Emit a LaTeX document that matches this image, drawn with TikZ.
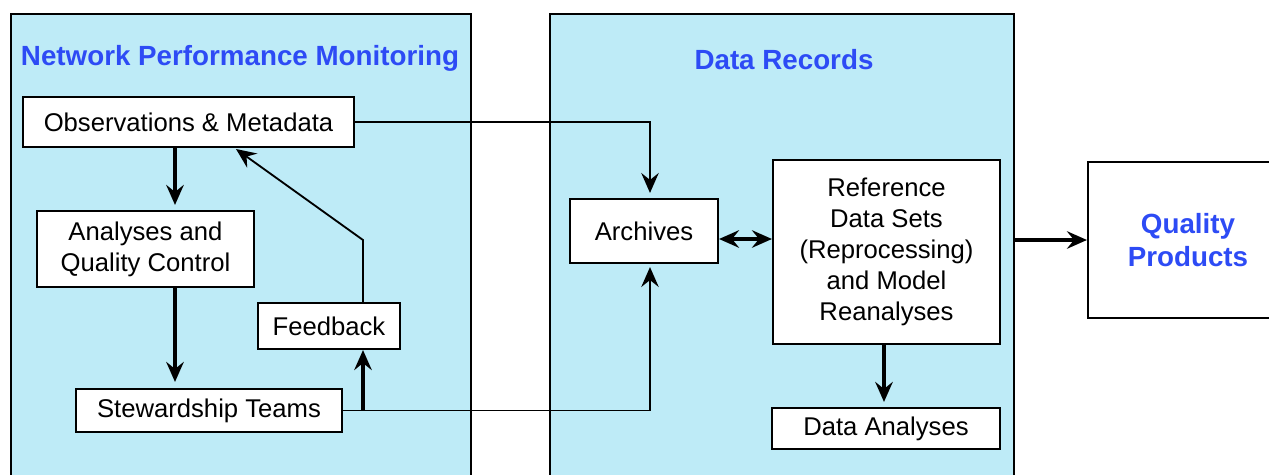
\documentclass[tikz,border=0pt]{standalone}
\usepackage{fontspec}
\setmainfont{Liberation Sans}
\usetikzlibrary{arrows.meta}

\definecolor{panelcyan}{RGB}{190,235,247}
\definecolor{headblue}{RGB}{45,75,245}

\begin{document}
\begin{tikzpicture}[x=0.02cm, y=-0.02cm,
    panel/.style={draw, line width=1.2pt, fill=panelcyan, anchor=north west, inner sep=0pt},
    box/.style={draw, line width=1.2pt, fill=white, inner sep=0pt, align=center,
                font=\fontsize{14.6}{17.6}\selectfont},
    heading/.style={text=headblue, align=center, font=\fontsize{15.8}{18.6}\selectfont\bfseries},
    link/.style={line width=1.05pt, -{Stealth[length=4mm, width=3.5mm, inset=1.4mm]}},
    flow/.style={link, line width=2pt}]
    \useasboundingbox (0,0) rectangle (1269,474);
    \clip (0,0) rectangle (1269,474);

    % Drawing the two panels
    \node[panel, minimum width=9.2cm, minimum height=9.6cm] (monpanel) at (10,13) {};
    \node[panel, minimum width=9.28cm, minimum height=9.6cm] (recpanel) at (549,13) {};
    \node[heading] (montitle) at (240,58) {Network Performance Monitoring};
    \node[heading] (rectitle) at (784,60) {Data Records};

    % Drawing boxes of the monitoring panel
    \node[box, minimum width=6.62cm, minimum height=1.0cm] (obs) at (188.5,122) {Observations \& Metadata};
    \node[box, minimum width=4.34cm, minimum height=1.52cm] (aqc) at (145.5,249) {Analyses and\\Quality Control};
    \node[box, minimum width=2.84cm, minimum height=0.92cm] (fb) at (329,326) {Feedback};
    \node[box, minimum width=5.32cm, minimum height=0.86cm] (stew) at (209,410.5) {Stewardship Teams};

    % Drawing boxes of the records panel
    \node[box, minimum width=2.96cm, minimum height=1.28cm] (arch) at (644,231) {Archives};
    \node[box, minimum width=4.54cm, minimum height=3.68cm] (ref) at (886.5,252)
        {Reference\\Data Sets\\(Reprocessing)\\and Model\\Reanalyses};
    \node[box, minimum width=4.56cm, minimum height=0.82cm] (da) at (886,428.5) {Data Analyses};

    % Drawing the products box
    \node[box, heading, minimum width=4.0cm, minimum height=3.12cm] (qp) at (1188,240) {Quality\\Products};

    % Routing columns and bends
    \coordinate (col) at (175,0);
    \coordinate (fbcol) at (363,0);
    \coordinate (archcol) at (650,0);
    \coordinate (fbbend) at (363,240);
    \coordinate (fbtip) at (236,149);
    \coordinate (archrow) at (0,239);

    % Drawing connectors
    \draw[flow, shorten >=0.1cm] (col |- obs.south) -- (col |- aqc.north);
    \draw[flow, shorten >=0.12cm] (col |- aqc.south) -- (col |- stew.north);
    \draw[flow] (fbcol |- stew.east) -- (fbcol |- fb.south);
    \draw[link] (fbcol |- fb.north) -- (fbbend) -- (fbtip);
    \draw[link, shorten >=0.1cm] (obs.east) -- (archcol |- obs.east) -- (archcol |- arch.north);
    \draw[link, shorten >=0.06cm] (stew.east) -- (archcol |- stew.east) -- (archcol |- arch.south);
    \draw[flow, {Stealth[length=4mm, width=3.5mm, inset=1.4mm]}-{Stealth[length=4mm, width=3.5mm, inset=1.4mm]}]
        (arch.east |- archrow) -- (ref.west |- archrow);
    \draw[flow, shorten >=0.1cm] (ref.south -| 884,0) -- (da.north -| 884,0);
    \draw[flow] (recpanel.east |- qp.west) -- (qp.west);
\end{tikzpicture}
\end{document}
